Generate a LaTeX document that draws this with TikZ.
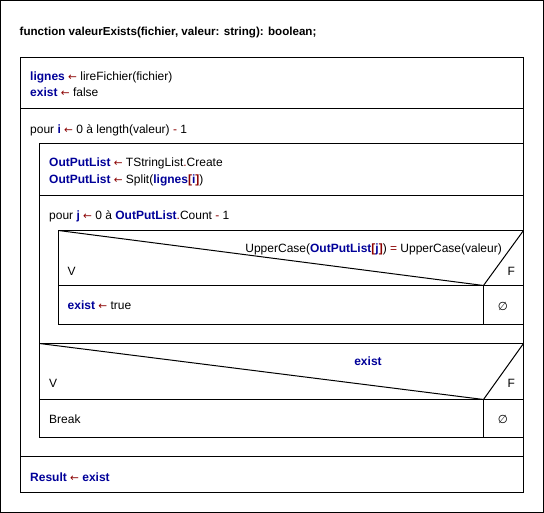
\documentclass[tikz,border=0pt]{standalone}
\usepackage{fontspec}
\setmainfont{Liberation Sans}
\newfontfamily\symfont{DejaVu Sans}
\definecolor{kwblue}{HTML}{000099}
\definecolor{opred}{HTML}{8B0000}
\newcommand\kw[1]{\textcolor{kwblue}{\bfseries #1}}
\newcommand\op[1]{\textcolor{opred}{#1}}
\newcommand\asg{\textcolor{opred}{\symfont\fontsize{10.5}{12}\selectfont ←}}
\newcommand\nullset{{\symfont\fontsize{11.5}{12}\selectfont ∅}}
\begin{document}
\begin{tikzpicture}[x=1pt,y=-1pt,
  txt/.style={anchor=base west, inner sep=0pt, font=\fontsize{12}{14}\selectfont},
  txtc/.style={anchor=base, inner sep=0pt, font=\fontsize{12}{14}\selectfont},
  txte/.style={anchor=base east, inner sep=0pt, font=\fontsize{12}{14}\selectfont},
  frame/.style={draw=black, line width=1pt}]
\useasboundingbox (0,0) rectangle (544,513);
\fill[white] (0,0) rectangle (544,513);
\draw[frame] (0.5,0.5) rectangle (543.5,512.5);
% main function box
\draw[frame] (20.5,57.5) rectangle (523.5,492.5);
\draw[frame] (20.5,108.5) -- (523.5,108.5);
\draw[frame] (20.5,456.5) -- (523.5,456.5);
% body of loop i
\draw[frame] (39.5,143.5) rectangle (523.5,437.5);
\draw[frame] (39.5,195.5) -- (523.5,195.5);
\draw[frame] (39.5,343.5) -- (523.5,343.5);
\draw[frame] (39.5,399.5) -- (523.5,399.5);
\draw[frame] (483.5,399.5) -- (483.5,437.5);
\draw[frame] (39.5,343.5) -- (483.5,399.5) -- (523.5,343.5);
% if inside loop j
\draw[frame] (58.5,230.5) rectangle (523.5,324.5);
\draw[frame] (58.5,285.5) -- (523.5,285.5);
\draw[frame] (483.5,285.5) -- (483.5,324.5);
\draw[frame] (58.5,230.5) -- (483.5,285.5) -- (523.5,230.5);
% texts
\node[txt, font=\fontsize{11.6}{14}\selectfont\bfseries] (title) at (19.5,36) {function valeurExists(fichier, valeur: string): boolean;};
\node[txt] (l1) at (30,81) {\kw{lignes} \asg{} lireFichier(fichier)};
\node[txt] (l2) at (30,97) {\kw{exist} \asg{} false};
\node[txt] (fori) at (30,134) {pour \kw{i} \asg{} 0 à length(valeur) \op{-} 1};
\node[txt] (o1) at (49,167) {\kw{OutPutList} \asg{} TStringList\op{.}Create};
\node[txt] (o2) at (49,184) {\kw{OutPutList} \asg{} Split(\kw{lignes}\op{\bfseries[}\kw{i}\op{\bfseries]})};
\node[txt] (forj) at (49,220) {pour \kw{j} \asg{} 0 à \kw{OutPutList}\op{.}Count \op{-} 1};
\node[txte] (cond1) at (502,253) {UpperCase(\kw{OutPutList}\op{\bfseries[}\kw{j}\op{\bfseries]}) \op{=} UpperCase(valeur)};
\node[txt] (v1) at (67.5,276) {V};
\node[txt] (f1) at (507.5,276) {F};
\node[txt] (t1) at (67.5,310) {\kw{exist} \asg{} true};
\node[inner sep=0pt] (e1) at (503,306) {\nullset};
\node[txtc] (cond2) at (368,365) {\kw{exist}};
\node[txt] (v2) at (49,387) {V};
\node[txt] (f2) at (507.5,387) {F};
\node[txt] (brk) at (49,423) {Break};
\node[inner sep=0pt] (e2) at (503,419) {\nullset};
\node[txt] (res) at (30,481) {\kw{Result} \asg{} \kw{exist}};
\end{tikzpicture}
\end{document}
